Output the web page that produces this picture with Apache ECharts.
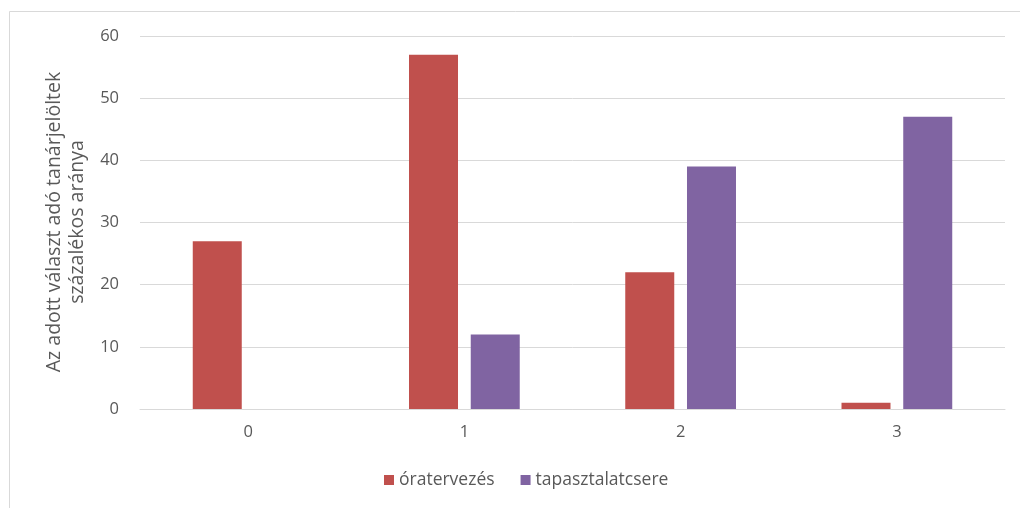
<!DOCTYPE html>
<html><head><meta charset="utf-8">
<script src="https://cdn.jsdelivr.net/npm/echarts@6/dist/echarts.min.js"></script>
<style>html,body{margin:0;padding:0;background:#fff}#c{width:1020px;height:508px}</style>
</head><body><div id="c"></div>
<script>
const categories = ['0', '1', '2', '3'];
const oratervezes = [27, 57, 22, 1];
const tapasztalatcsere = [0, 12, 39, 47];
const seriesNames = ['óratervezés', 'tapasztalatcsere'];
const yTitle = 'Az adott választ adó tanárjelöltek\nszázalékos aránya';

const FONT = 'Open Sans';
const chart = echarts.init(document.getElementById('c'), null, {renderer: 'canvas'});
chart.setOption({
  animation: false,
  backgroundColor: '#fff',
  graphic: [
    {type: 'rect', shape: {x: 9.5, y: 11.5, width: 1030, height: 520}, style: {fill: 'none', stroke: '#d9d9d9', lineWidth: 1}, silent: true},
    {type: 'text', x: 66, y: 222, rotation: Math.PI / 2,
     style: {text: yTitle, fill: '#595959', font: '19.5px ' + FONT, textAlign: 'center', textVerticalAlign: 'middle', lineHeight: 23}}
  ],
  legend: {
    bottom: 14, left: 379, itemWidth: 10, itemHeight: 10, itemGap: 26,
    icon: 'rect',
    textStyle: {color: '#595959', fontSize: 17.5, fontFamily: FONT},
    data: seriesNames
  },
  grid: {left: 140, right: 15, top: 36, bottom: 99},
  xAxis: {
    type: 'category', data: categories,
    axisLine: {lineStyle: {color: '#d9d9d9', width: 1}},
    axisTick: {show: false},
    axisLabel: {color: '#595959', fontSize: 16.5, fontFamily: FONT, margin: 15}
  },
  yAxis: {
    type: 'value', min: 0, max: 60, interval: 10,
    axisLine: {show: false}, axisTick: {show: false},
    splitLine: {lineStyle: {color: '#d9d9d9', width: 1}},
    axisLabel: {color: '#595959', fontSize: 16.5, fontFamily: FONT, margin: 21}
  },
  series: [
    {name: seriesNames[0], type: 'bar', data: oratervezes, barWidth: 49, barGap: '26%',
     itemStyle: {color: '#C0504D'}},
    {name: seriesNames[1], type: 'bar', data: tapasztalatcsere, barWidth: 49,
     itemStyle: {color: '#8064A2'}}
  ]
});
</script></body></html>
